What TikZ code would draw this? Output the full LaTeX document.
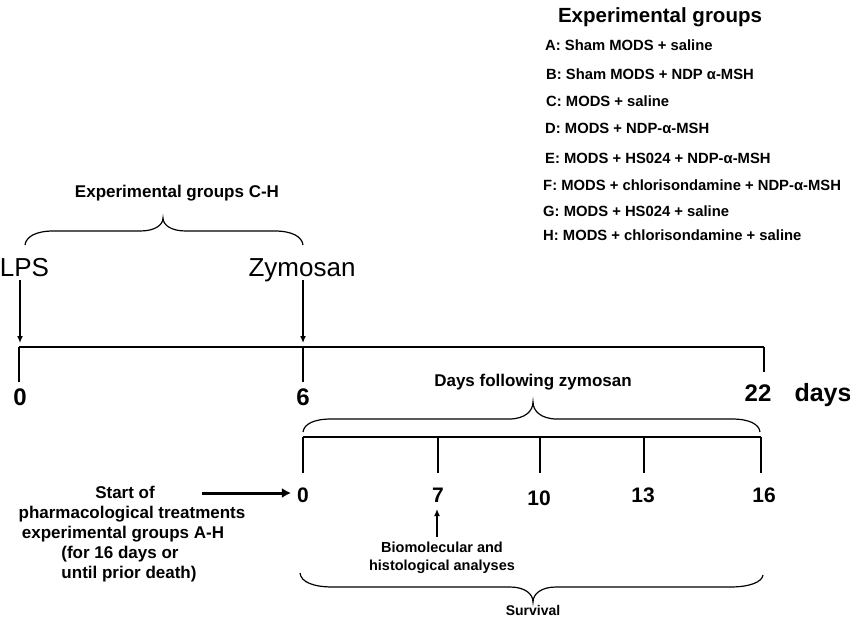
\documentclass[tikz,border=0pt]{standalone}
\usepackage{fontspec}
\setmainfont{Liberation Sans}
\usetikzlibrary{arrows.meta}
\begin{document}
\begin{tikzpicture}[x=1pt,y=-1pt,
  txt/.style={inner sep=0pt, anchor=base},
  title/.style={txt, font=\bfseries\fontsize{20.5}{24}\selectfont},
  grp/.style={txt, anchor=base west, font=\bfseries\fontsize{14.8}{17}\selectfont},
  mid/.style={txt, font=\bfseries\fontsize{17}{20}\selectfont},
  small/.style={txt, font=\bfseries\fontsize{14.5}{17}\selectfont},
  big/.style={txt, font=\fontsize{26}{30}\selectfont},
  topnum/.style={txt, font=\bfseries\fontsize{24}{28}\selectfont},
  lownum/.style={txt, font=\bfseries\fontsize{21}{25}\selectfont},
  axis/.style={line width=1.5pt},
  bracestyle/.style={line width=1.2pt},
  arr/.style={line width=1.3pt, -{Latex[length=7pt,width=6pt]}},
  bigarr/.style={line width=3pt, -{Latex[length=9pt,width=10pt]}}
]
\useasboundingbox (0,0) rectangle (850,619);

% Experimental groups list
\node[title] (tt) at (660,22) {Experimental groups};
\node[grp] (ga) at (545,50.5) {A: Sham MODS + saline};
\node[grp] (gb) at (546,79.5) {B: Sham MODS + NDP α-MSH};
\node[grp] (gc) at (546,106.5) {C: MODS + saline};
\node[grp] (gd) at (545,133.5) {D: MODS + NDP-α-MSH};
\node[grp] (ge) at (545,163.5) {E: MODS + HS024 + NDP-α-MSH};
\node[grp] (gf) at (543,190.5) {F: MODS + chlorisondamine + NDP-α-MSH};
\node[grp] (gg) at (543,216.5) {G: MODS + HS024 + saline};
\node[grp] (gh) at (543,240.5) {H: MODS + chlorisondamine + saline};

% top timeline
\node[mid] (ch) at (177,197) {Experimental groups C-H};
\draw[bracestyle] (25,245) .. controls (26,236.6) and (36.2,231) .. (53,231) -- (140,231)
  .. controls (155,231) and (163,225) .. (163,218)
  .. controls (163,225) and (171,231) .. (186,231) -- (275,231)
  .. controls (291.8,231) and (302,236.6) .. (303,245);

\node[big] (lps) at (24.5,276) {LPS};
\node[big] (zym) at (302,276) {Zymosan};

\coordinate (t0) at (19,347);
\coordinate (t6) at (303,347);
\coordinate (t22) at (764,347);
\coordinate (lpsA) at (20,280);
\coordinate (zymA) at (303,280);
\draw[arr] (lpsA) -- ([yshift=4pt]t0 -| lpsA);
\draw[arr] (zymA) -- ([yshift=4pt]t6);

\draw[axis] (t0) -- (t22);
\draw[axis] (t0) -- ++(0,35);
\draw[axis] (t6) -- ++(0,35);
\draw[axis] (t22) -- ++(0,25);

\node[topnum] (n0) at (20,405) {0};
\node[topnum] (n6) at (303,405) {6};
\node[topnum] (n22) at (758,401) {22};
\node[topnum, font=\bfseries\fontsize{25}{29}\selectfont] (days) at (823,401) {days};

\node[mid] (dfz) at (533,386) {Days following zymosan};
\draw[bracestyle] (303,432) .. controls (304,424) and (314,419) .. (331,419) -- (509,419)
  .. controls (525,419) and (533,411) .. (533,402)
  .. controls (533,411) and (541,419) .. (557,419) -- (732,419)
  .. controls (749,419) and (759,424) .. (760,432);

% lower timeline
\coordinate (u0) at (303,437);
\coordinate (u7) at (438,437);
\coordinate (u10) at (540,437);
\coordinate (u13) at (644,437);
\coordinate (u16) at (761,437);
\draw[axis] (u0) -- (u16);
\foreach \p in {u0,u7,u10,u13,u16} \draw[axis] (\p) -- ++(0,36);

\node[lownum] (m0) at (303,502.5) {0};
\node[lownum] (m7) at (438,502.5) {7};
\node[lownum] (m10) at (539,505.5) {10};
\node[lownum] (m13) at (643,502.5) {13};
\node[lownum] (m16) at (764,502.5) {16};

% start of treatments
\node[mid] (s1) at (125,498) {Start of};
\node[mid] (s2) at (132,518) {pharmacological treatments};
\node[mid] (s3) at (123,538) {experimental groups A-H};
\node[mid] (s4) at (120,558) {(for 16 days or};
\node[mid] (s5) at (129,578) {until prior death)};
\coordinate (sA) at (202,493);
\draw[bigarr] (sA) -- ([xshift=-6pt]m0.west |- sA);

% analyses
\node[small] (b1) at (442,552) {Biomolecular and};
\node[small] (b2) at (442,570) {histological analyses};
\coordinate (bA) at (437,537);
\draw[arr] (bA) -- (437,509);

% survival
\draw[bracestyle] (300,573) .. controls (301,582) and (313,587) .. (333,587) -- (510,587)
  .. controls (525,587) and (533,594) .. (533,602)
  .. controls (533,594) and (541,587) .. (556,587) -- (730,587)
  .. controls (750,587) and (762,582) .. (763,575);
\node[small, font=\bfseries\fontsize{14}{17}\selectfont] (surv) at (533,615) {Survival};
\end{tikzpicture}
\end{document}
